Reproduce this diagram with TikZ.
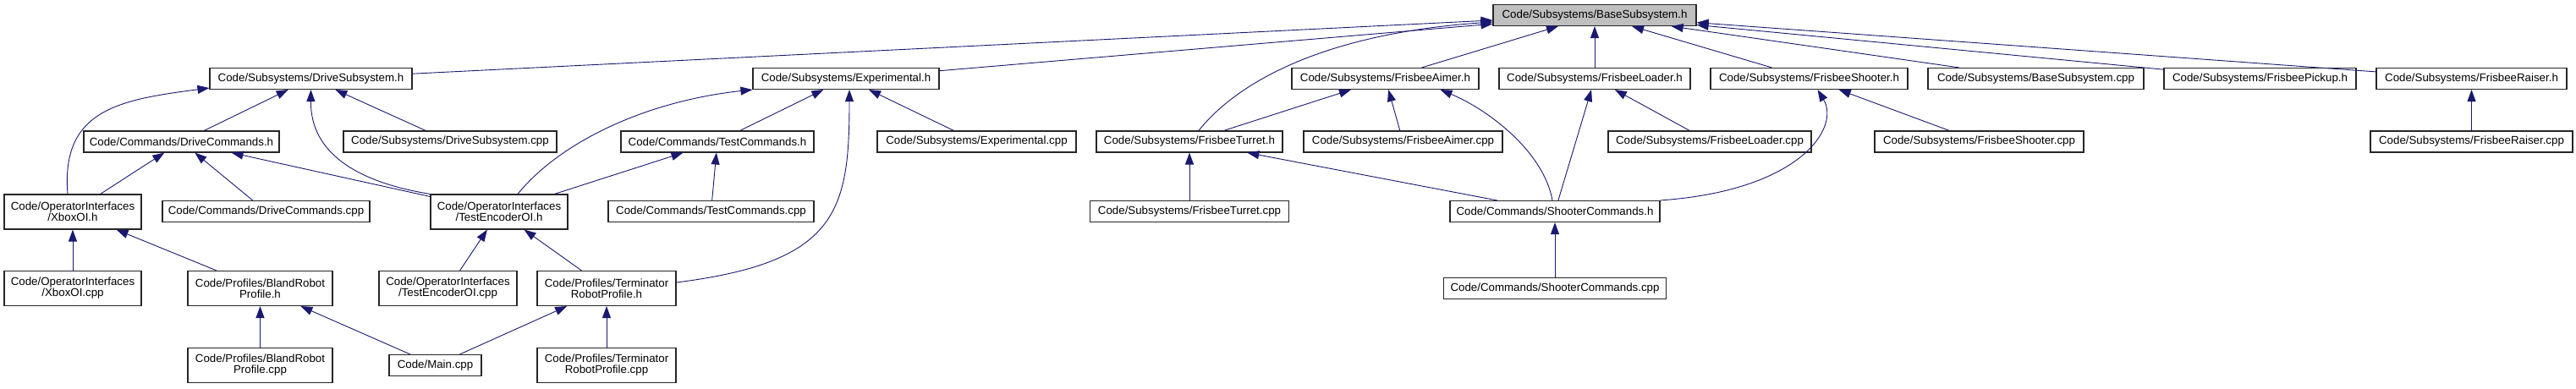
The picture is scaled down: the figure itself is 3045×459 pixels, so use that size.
\documentclass[tikz,border=0pt]{standalone}
\usepackage{fontspec}
\setmainfont{Liberation Sans}
\usepackage{tikz}
\usetikzlibrary{arrows.meta, positioning}
\definecolor{edgeblue}{HTML}{191970}

\begin{document}
\begin{tikzpicture}[
  x=1pt, y=1pt,
  box/.style={draw=black!85, line width=1.1pt, fill=white, align=center, inner sep=1pt,
    minimum height=25pt, font=\fontsize{13.3}{13}\selectfont},
  tall/.style={minimum height=41pt},
  basebox/.style={box, fill=black!25},
  arrow/.style={-{Triangle[length=14pt, width=10pt]}, draw=edgeblue, line width=0.9pt}
]
\useasboundingbox (0,0) rectangle (3045,-459);

% row 0
\node[basebox, minimum width=240pt] (base) at (1885,-18) {Code/Subsystems/BaseSubsystem.h};

% row 1
\node[box, minimum width=239pt] (drivesub) at (367.5,-93) {Code/Subsystems/DriveSubsystem.h};
\node[box, minimum width=220pt] (experimental) at (1000,-93) {Code/Subsystems/Experimental.h};
\node[box, minimum width=221pt] (aimer) at (1637.5,-93) {Code/Subsystems/FrisbeeAimer.h};
\node[box, minimum width=226pt] (loader) at (1885,-93) {Code/Subsystems/FrisbeeLoader.h};
\node[box, minimum width=233pt] (shooter) at (2138.5,-93) {Code/Subsystems/FrisbeeShooter.h};
\node[box, minimum width=255pt] (basecpp) at (2406.5,-93) {Code/Subsystems/BaseSubsystem.cpp};
\node[box, minimum width=227pt] (pickup) at (2671.5,-93) {Code/Subsystems/FrisbeePickup.h};
\node[box, minimum width=225pt] (raiser) at (2921.5,-93) {Code/Subsystems/FrisbeeRaiser.h};

% row 2
\node[box, minimum width=231pt] (drivecmd) at (214.5,-167.5) {Code/Commands/DriveCommands.h};
\node[box, minimum width=252pt] (drivesubcpp) at (532,-167.5) {Code/Subsystems/DriveSubsystem.cpp};
\node[box, minimum width=228pt] (testcmd) at (848,-167.5) {Code/Commands/TestCommands.h};
\node[box, minimum width=235pt] (experimentalcpp) at (1154.5,-167.5) {Code/Subsystems/Experimental.cpp};
\node[box, minimum width=220pt] (turret) at (1406,-167.5) {Code/Subsystems/FrisbeeTurret.h};
\node[box, minimum width=235pt] (aimercpp) at (1658.5,-167.5) {Code/Subsystems/FrisbeeAimer.cpp};
\node[box, minimum width=240pt] (loadercpp) at (2021,-167.5) {Code/Subsystems/FrisbeeLoader.cpp};
\node[box, minimum width=247pt] (shootercpp) at (2339.5,-167.5) {Code/Subsystems/FrisbeeShooter.cpp};
\node[box, minimum width=239pt, below=48.4pt of raiser] (raisercpp) {Code/Subsystems/FrisbeeRaiser.cpp};

% row 3
\node[box, tall, minimum width=162pt] (xboxoi) at (86,-250.5) {Code/OperatorInterfaces\\/XboxOI.h};
\node[box, minimum width=245pt] (drivecmdcpp) at (314.5,-250) {Code/Commands/DriveCommands.cpp};
\node[box, tall, minimum width=162pt] (testenc) at (590,-250.5) {Code/OperatorInterfaces\\/TestEncoderOI.h};
\node[box, minimum width=243pt] (testcmdcpp) at (840.5,-250) {Code/Commands/TestCommands.cpp};
\node[box, minimum width=235pt, below=56.4pt of turret] (turretcpp) {Code/Subsystems/FrisbeeTurret.cpp};
\node[box, minimum width=248pt] (shootercmd) at (1838,-250) {Code/Commands/ShooterCommands.h};

% row 4
\node[box, tall, minimum width=162pt, below=48.4pt of xboxoi] (xboxoicpp) {Code/OperatorInterfaces\\/XboxOI.cpp};
\node[box, tall, minimum width=171pt] (blandh) at (307.5,-341) {Code/Profiles/BlandRobot\\Profile.h};
\node[box, tall, minimum width=163pt] (testenccpp) at (529.5,-341) {Code/OperatorInterfaces\\/TestEncoderOI.cpp};
\node[box, tall, minimum width=164pt] (termh) at (717,-341) {Code/Profiles/Terminator\\RobotProfile.h};
\node[box, minimum width=263pt, below=64.9pt of shootercmd] (shootercmdcpp) {Code/Commands/ShooterCommands.cpp};

% row 5
\node[box, tall, minimum width=171pt, below=48.9pt of blandh] (blandcpp) {Code/Profiles/BlandRobot\\Profile.cpp};
\node[box, minimum width=109pt] (maincpp) at (514.5,-432) {Code/Main.cpp};
\node[box, tall, minimum width=164pt, below=48.9pt of termh] (termcpp) {Code/Profiles/Terminator\\RobotProfile.cpp};

% includes of BaseSubsystem.h
\draw[arrow] (drivesub) -- (base);
\draw[arrow] (experimental) -- (base);
\draw[arrow] ([xshift=11pt]turret.north) .. controls (1460,-100) and (1560,-40) .. ([yshift=-8pt]base.west);
\draw[arrow] (aimer) -- (base);
\draw[arrow] (loader) -- (base);
\draw[arrow] (shooter) -- (base);
\draw[arrow] (basecpp) -- (base);
\draw[arrow] (pickup) -- (base);
\draw[arrow] (raiser) -- (base);

% includes of DriveSubsystem.h
\draw[arrow] (drivecmd) -- (drivesub);
\draw[arrow] (drivesubcpp) -- (drivesub);
\draw[arrow] ([xshift=-6pt]xboxoi.north) .. controls (72,-130) and (140,-118) .. ([yshift=2pt]drivesub.south west);
\draw[arrow] (testenc.north west) .. controls (420,-215) and (367,-180) .. (drivesub.south);

% includes of DriveCommands.h
\draw[arrow] (xboxoi) -- (drivecmd);
\draw[arrow] (drivecmdcpp) -- (drivecmd);
\draw[arrow] (testenc) -- (drivecmd);

% includes of Experimental.h
\draw[arrow] ([xshift=22pt]testenc.north) .. controls (660,-170) and (760,-120) .. (experimental.south west);
\draw[arrow] (testcmd) -- (experimental);
\draw[arrow] ([yshift=7pt]termh.east) .. controls (990,-310) and (1004,-250) .. ([xshift=4pt]experimental.south);
\draw[arrow] (experimentalcpp) -- (experimental);

% TestCommands.h, TestEncoderOI.h, XboxOI.h
\draw[arrow] (testenc) -- (testcmd);
\draw[arrow] (testcmdcpp) -- (testcmd);
\draw[arrow] (testenccpp) -- (testenc);
\draw[arrow] (termh) -- (testenc);
\draw[arrow] (xboxoicpp) -- (xboxoi);
\draw[arrow] (blandh) -- (xboxoi);

% profiles
\draw[arrow] (blandcpp) -- (blandh);
\draw[arrow] (maincpp) -- (blandh);
\draw[arrow] (maincpp) -- (termh);
\draw[arrow] (termcpp) -- (termh);

% frisbee parts
\draw[arrow] (turretcpp) -- (turret);
\draw[arrow] (shootercmd) -- (turret);
\draw[arrow] (turret) -- (aimer);
\draw[arrow] (aimercpp) -- (aimer);
\draw[arrow] ([xshift=-3pt]shootercmd.north) .. controls (1825,-180) and (1760,-130) .. ([xshift=-46pt]aimer.south east);
\draw[arrow] (shootercmd) -- (loader);
\draw[arrow] (loadercpp) -- (loader);
\draw[arrow] (shootercmd.north east) .. controls (2130,-225) and (2175,-150) .. ([xshift=10pt]shooter.south);
\draw[arrow] (shootercpp) -- (shooter);
\draw[arrow] (raisercpp) -- (raiser);
\draw[arrow] (shootercmdcpp) -- (shootercmd);
\end{tikzpicture}
\end{document}
